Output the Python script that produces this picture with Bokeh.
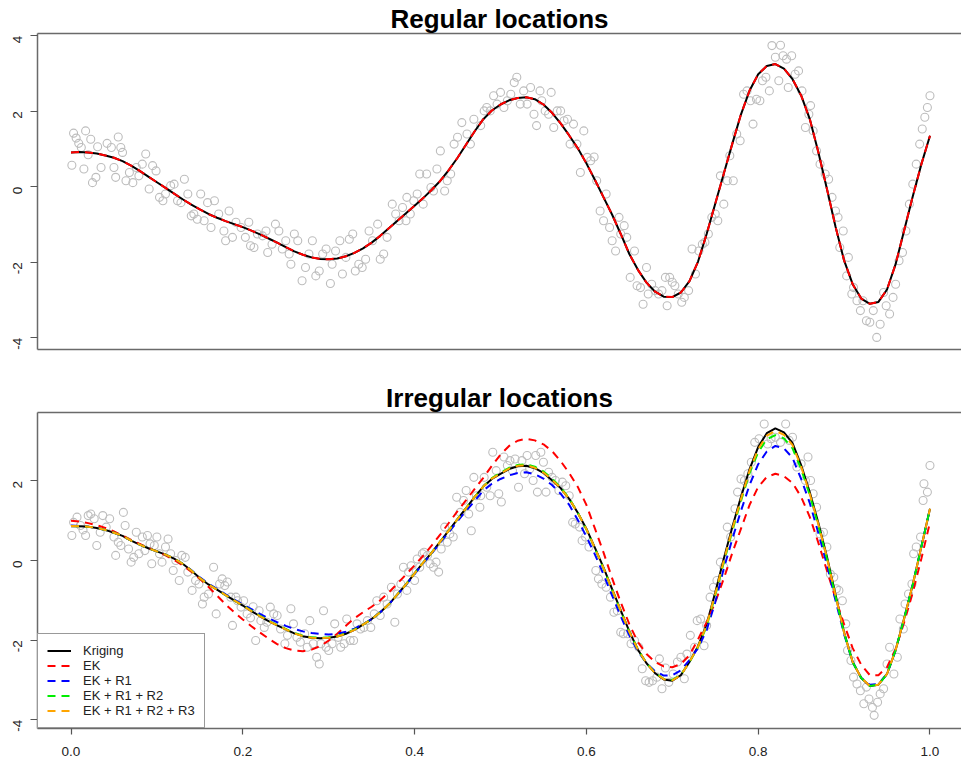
import math
from bokeh.plotting import figure
from bokeh.layouts import column
from bokeh.models import Range1d, FixedTicker, LinearAxis, Legend, LegendItem
from bokeh.embed import file_html
from bokeh.resources import INLINE

# ---------------- data ----------------
CURVE_X = [round(i * 0.01, 2) for i in range(101)]

KRIGING_TOP = [0.91, 0.92, 0.91, 0.88, 0.83, 0.77, 0.68, 0.56, 0.42, 0.27,
               0.12, -0.03, -0.18, -0.33, -0.47, -0.60, -0.72, -0.82, -0.91, -0.99,
               -1.07, -1.16, -1.26, -1.37, -1.48, -1.60, -1.71, -1.80, -1.87, -1.91,
               -1.92, -1.90, -1.84, -1.75, -1.63, -1.48, -1.30, -1.10, -0.90, -0.70,
               -0.50, -0.30, -0.08, 0.16, 0.45, 0.77, 1.12, 1.47, 1.79, 2.02,
               2.18, 2.29, 2.35, 2.37, 2.32, 2.18, 1.96, 1.68, 1.36, 1.02,
               0.62, 0.18, -0.28, -0.74, -1.25, -1.78, -2.20, -2.54, -2.78, -2.91,
               -2.92, -2.80, -2.50, -1.98, -1.25, -0.45, 0.35, 1.15, 1.92, 2.55,
               2.98, 3.20, 3.25, 3.13, 2.85, 2.42, 1.80, 0.92, -0.05, -1.05,
               -1.95, -2.58, -2.96, -3.10, -3.05, -2.72, -2.05, -1.15, -0.25, 0.60,
               1.35]
EK_TOP = [0.91, 0.92, 0.91, 0.88, 0.83, 0.77, 0.68, 0.56, 0.42, 0.27,
          0.12, -0.03, -0.18, -0.33, -0.47, -0.60, -0.72, -0.82, -0.91, -0.99,
          -1.07, -1.16, -1.26, -1.37, -1.48, -1.60, -1.71, -1.80, -1.87, -1.91,
          -1.92, -1.90, -1.84, -1.75, -1.63, -1.48, -1.30, -1.10, -0.90, -0.70,
          -0.50, -0.30, -0.08, 0.16, 0.45, 0.77, 1.12, 1.47, 1.79, 2.02,
          2.18, 2.29, 2.35, 2.37, 2.32, 2.18, 1.96, 1.68, 1.36, 1.02,
          0.62, 0.18, -0.28, -0.74, -1.25, -1.78, -2.20, -2.54, -2.78, -2.91,
          -2.92, -2.80, -2.50, -1.98, -1.25, -0.45, 0.35, 1.15, 1.92, 2.55,
          2.98, 3.20, 3.25, 3.13, 2.85, 2.42, 1.80, 0.92, -0.05, -1.05,
          -1.95, -2.58, -2.96, -3.10, -3.05, -2.72, -2.05, -1.15, -0.25, 0.60,
          1.35]

KRIGING_BOT = [0.86, 0.86, 0.85, 0.82, 0.77, 0.70, 0.62, 0.50, 0.40, 0.31,
               0.23, 0.15, 0.05, -0.08, -0.25, -0.44, -0.60, -0.73, -0.87, -1.00,
               -1.13, -1.27, -1.40, -1.52, -1.63, -1.73, -1.83, -1.90, -1.94, -1.95,
               -1.94, -1.91, -1.84, -1.74, -1.61, -1.47, -1.30, -1.10, -0.85, -0.60,
               -0.32, -0.05, 0.20, 0.48, 0.76, 1.04, 1.32, 1.60, 1.86, 2.05,
               2.18, 2.30, 2.37, 2.38, 2.32, 2.20, 2.02, 1.82, 1.55, 1.20,
               0.80, 0.32, -0.18, -0.72, -1.25, -1.78, -2.24, -2.58, -2.83, -2.99,
               -3.02, -2.88, -2.55, -2.15, -1.60, -0.80, 0.05, 0.85, 1.60, 2.30,
               2.85, 3.20, 3.32, 3.22, 2.95, 2.40, 1.72, 0.95, 0.10, -0.85,
               -1.80, -2.55, -2.95, -3.15, -3.12, -2.85, -2.25, -1.45, -0.60, 0.35,
               1.30]
EK_BOT = [1.00, 0.98, 0.94, 0.89, 0.82, 0.73, 0.63, 0.52, 0.42, 0.32,
          0.23, 0.13, 0.02, -0.12, -0.28, -0.46, -0.66, -0.88, -1.10, -1.30,
          -1.48, -1.65, -1.81, -1.96, -2.10, -2.20, -2.26, -2.28, -2.24, -2.15,
          -2.01, -1.84, -1.64, -1.45, -1.30, -1.16, -1.00, -0.80, -0.58, -0.35,
          -0.12, 0.12, 0.38, 0.66, 0.95, 1.24, 1.52, 1.80, 2.08, 2.38,
          2.66, 2.88, 3.01, 3.06, 3.02, 2.92, 2.75, 2.50, 2.20, 1.85,
          1.40, 0.80, 0.20, -0.45, -1.05, -1.60, -2.05, -2.35, -2.55, -2.66,
          -2.68, -2.60, -2.38, -1.98, -1.55, -1.05, -0.45, 0.20, 0.80, 1.40,
          1.85, 2.10, 2.18, 2.12, 1.95, 1.60, 1.10, 0.45, -0.25, -0.95,
          -1.60, -2.20, -2.62, -2.88, -2.88, -2.68, -2.22, -1.55, -0.80, 0.05,
          0.96]
EK_R1_BOT = [0.88, 0.87, 0.85, 0.82, 0.77, 0.70, 0.61, 0.50, 0.40, 0.31,
             0.23, 0.15, 0.05, -0.08, -0.24, -0.42, -0.58, -0.71, -0.85, -0.98,
             -1.10, -1.22, -1.34, -1.45, -1.55, -1.64, -1.72, -1.78, -1.82, -1.84,
             -1.86, -1.84, -1.79, -1.71, -1.60, -1.47, -1.30, -1.10, -0.86, -0.61,
             -0.34, -0.07, 0.18, 0.45, 0.72, 0.99, 1.25, 1.50, 1.76, 1.93,
             2.05, 2.14, 2.20, 2.22, 2.17, 2.06, 1.90, 1.68, 1.40, 1.02,
             0.60, 0.15, -0.35, -0.88, -1.40, -1.88, -2.28, -2.58, -2.78, -2.89,
             -2.88, -2.76, -2.50, -2.20, -1.75, -1.05, -0.20, 0.55, 1.25, 1.90,
             2.42, 2.74, 2.88, 2.82, 2.58, 2.05, 1.45, 0.70, -0.10, -1.00,
             -1.85, -2.55, -2.95, -3.12, -3.10, -2.85, -2.25, -1.45, -0.60, 0.35,
             1.30]
EK_R1_R2_BOT = [0.87, 0.86, 0.85, 0.82, 0.77, 0.70, 0.62, 0.50, 0.40, 0.31,
                0.23, 0.15, 0.05, -0.08, -0.25, -0.44, -0.60, -0.73, -0.87, -1.00,
                -1.13, -1.26, -1.39, -1.51, -1.62, -1.72, -1.82, -1.89, -1.93, -1.94,
                -1.93, -1.90, -1.83, -1.73, -1.61, -1.47, -1.30, -1.10, -0.85, -0.60,
                -0.32, -0.05, 0.20, 0.48, 0.76, 1.04, 1.32, 1.60, 1.86, 2.07,
                2.21, 2.33, 2.40, 2.42, 2.36, 2.24, 2.06, 1.84, 1.56, 1.20,
                0.78, 0.30, -0.20, -0.74, -1.27, -1.79, -2.24, -2.58, -2.82, -2.97,
                -3.00, -2.87, -2.55, -2.17, -1.65, -0.88, -0.05, 0.75, 1.50, 2.20,
                2.72, 3.05, 3.15, 3.07, 2.82, 2.30, 1.65, 0.88, 0.05, -0.90,
                -1.82, -2.55, -2.95, -3.15, -3.12, -2.85, -2.25, -1.45, -0.60, 0.35,
                1.30]
EK_R1_R2_R3_BOT = [0.87, 0.86, 0.85, 0.82, 0.77, 0.70, 0.62, 0.50, 0.40, 0.31,
                   0.23, 0.15, 0.05, -0.08, -0.25, -0.44, -0.60, -0.73, -0.87, -1.00,
                   -1.13, -1.27, -1.40, -1.52, -1.63, -1.73, -1.83, -1.90, -1.94, -1.95,
                   -1.94, -1.91, -1.84, -1.74, -1.61, -1.47, -1.30, -1.10, -0.85, -0.60,
                   -0.32, -0.05, 0.20, 0.48, 0.76, 1.04, 1.32, 1.60, 1.86, 2.06,
                   2.19, 2.31, 2.38, 2.39, 2.33, 2.21, 2.03, 1.82, 1.55, 1.20,
                   0.79, 0.31, -0.19, -0.73, -1.26, -1.79, -2.24, -2.58, -2.83, -2.98,
                   -3.01, -2.88, -2.55, -2.16, -1.62, -0.84, 0.00, 0.80, 1.55, 2.26,
                   2.80, 3.14, 3.26, 3.16, 2.90, 2.36, 1.68, 0.92, 0.08, -0.87,
                   -1.81, -2.55, -2.95, -3.15, -3.12, -2.85, -2.25, -1.45, -0.60, 0.35,
                   1.30]

# observations, regular locations
OBS_TOP_X = [0.001, 0.003, 0.006, 0.009, 0.012, 0.015, 0.017, 0.020, 0.023, 0.025,
             0.029, 0.031, 0.035, 0.042, 0.047, 0.050, 0.052, 0.055, 0.058, 0.060,
             0.064, 0.068, 0.072, 0.076, 0.079, 0.083, 0.087, 0.091, 0.095, 0.099,
             0.103, 0.107, 0.110, 0.116, 0.120, 0.124, 0.128, 0.132, 0.136, 0.140,
             0.143, 0.147, 0.151, 0.155, 0.159, 0.163, 0.167, 0.172, 0.178, 0.180,
             0.184, 0.188, 0.192, 0.198, 0.203, 0.207, 0.209, 0.213, 0.217, 0.223,
             0.227, 0.229, 0.234, 0.238, 0.242, 0.246, 0.250, 0.254, 0.256, 0.260,
             0.264, 0.269, 0.273, 0.277, 0.281, 0.285, 0.289, 0.293, 0.297, 0.302,
             0.304, 0.308, 0.313, 0.316, 0.320, 0.324, 0.328, 0.331, 0.335, 0.339,
             0.343, 0.347, 0.351, 0.357, 0.360, 0.364, 0.368, 0.374, 0.378, 0.382,
             0.386, 0.390, 0.391, 0.395, 0.399, 0.403, 0.406, 0.410, 0.414, 0.419,
             0.422, 0.426, 0.430, 0.435, 0.438, 0.442, 0.446, 0.450, 0.455, 0.461,
             0.465, 0.469,
             0.477, 0.481, 0.484, 0.488, 0.492, 0.496, 0.500, 0.504, 0.508, 0.512,
             0.516, 0.519, 0.523, 0.527, 0.531, 0.535, 0.539, 0.542, 0.546, 0.548,
             0.552, 0.556, 0.559, 0.562, 0.566, 0.570, 0.574, 0.578, 0.581, 0.585,
             0.589, 0.593, 0.597, 0.601, 0.605, 0.609, 0.612, 0.616, 0.620, 0.623,
             0.627, 0.630, 0.634, 0.638, 0.640, 0.644, 0.647, 0.651, 0.656, 0.659,
             0.663, 0.666, 0.670, 0.672, 0.676, 0.680, 0.684, 0.688, 0.692, 0.694,
             0.697, 0.700, 0.703, 0.707, 0.711, 0.714, 0.719, 0.723, 0.727, 0.731,
             0.735, 0.738, 0.742, 0.746, 0.750, 0.753, 0.756, 0.760, 0.764, 0.767,
             0.771, 0.775, 0.779, 0.783, 0.787, 0.791, 0.794, 0.798, 0.802, 0.805,
             0.809, 0.813, 0.816, 0.820, 0.824, 0.826, 0.829, 0.833, 0.835, 0.839,
             0.843, 0.847, 0.851, 0.855, 0.859, 0.861, 0.864, 0.868, 0.872, 0.878,
             0.882, 0.886, 0.890, 0.893, 0.895, 0.899, 0.903, 0.905, 0.909, 0.911,
             0.915, 0.919, 0.922, 0.926, 0.930, 0.934, 0.938, 0.942, 0.946, 0.949,
             0.953, 0.957, 0.960, 0.964, 0.968, 0.972, 0.976, 0.980, 0.984, 0.988,
             0.991, 0.994, 0.997, 1.000]
OBS_TOP_Y = [0.57, 1.42, 1.29, 1.15, 1.04, 0.47, 1.48, 0.85, 1.26, 0.11,
             0.25, 1.06, 0.51, 1.15, 1.04, 0.51, 0.25, 1.32, 1.04, 0.91,
             0.16, 0.38, 0.11, 0.51, 0.29, 0.60, 0.87, -0.06, 0.56, 0.42,
             -0.28, -0.37, -0.19, 0.03, 0.07, -0.37, -0.42, 0.20, -0.19, -0.77,
             -0.72, -0.86, -0.19, -0.90, -0.42, -1.08, -0.37, -0.72, -1.17, -1.43,
             -0.64, -1.34, -0.94, -1.08, -1.34, -0.94, -1.56, -1.61, -1.25, -1.30,
             -1.17, -1.74, -1.52, -0.99, -1.17, -1.65, -1.43, -1.78, -2.05, -1.25,
             -1.43, -2.49, -2.14, -1.78, -1.43, -2.36, -2.23, -1.78, -1.65, -2.56,
             -2.05, -1.70, -1.43, -2.31, -1.87, -1.39, -1.25, -2.23, -2.05, -2.14,
             -1.92, -1.17, -1.43, -0.99, -1.92, -1.78, -1.34, -0.46, -0.72, -0.90,
             -0.55, -0.90, -0.28, -0.72, -0.37, -0.19, 0.34, -0.46, 0.34, -0.02,
             -0.11, 0.47, 0.95, -0.11, 0.16, 0.34, 1.13, 1.31, 1.70, 1.40,
             1.13, 1.79,
             1.62, 2.01, 2.10, 2.01, 2.41, 2.19, 2.50, 2.10, 2.28, 2.45,
             2.76, 2.90, 2.19, 2.54, 2.19, 2.63, 1.92, 1.62, 2.54, 2.28,
             2.01, 1.92, 2.50, 1.57, 2.01, 2.01, 1.75, 1.79, 1.13, 1.66,
             1.13, 0.38, 1.48, 0.78, 0.69, 0.79, 0.16, -0.64, -0.90, -0.19,
             -1.08, -1.43, -1.70, -0.81, -1.25, -1.03, -1.34, -2.40, -1.70, -2.62,
             -2.67, -3.11, -2.14, -2.84, -2.58, -2.75, -2.84, -2.75, -2.40, -3.15,
             -2.40, -2.53, -2.62, -2.84, -3.06, -2.93, -2.75, -1.65, -2.31, -1.70,
             -1.52, -1.47, -1.25, -0.81, -0.72, -0.90, 0.29, -0.46, 0.16, 0.82,
             0.16, 1.40, 1.22, 2.45, 2.54, 2.28, 1.66, 2.32, 2.28, 2.81,
             2.90, 2.54, 3.74, 3.43, 2.81, 3.75, 3.47, 3.38, 2.63, 3.47,
             2.98, 3.07, 2.54, 1.57, 1.92, 2.15, 1.48, 0.95, 0.60, 0.34,
             0.20, -0.28, -0.64, -0.81, -1.61, -1.17, -2.36, -1.87, -2.84, -2.67,
             -3.02, -3.28, -3.02, -3.55, -3.59, -3.28, -3.99, -3.64, -2.80, -3.15,
             -3.37, -2.93, -2.58, -1.96, -1.74, -1.17, -0.46, 0.07, 0.60, 1.13,
             1.53, 1.84, 2.10, 2.41]

# observations, irregular locations
OBS_BOT_X = [0.001, 0.003, 0.007, 0.011, 0.014, 0.017, 0.020, 0.023, 0.027, 0.030,
             0.034, 0.037, 0.041, 0.045, 0.050, 0.052, 0.055, 0.058, 0.061, 0.063,
             0.067, 0.070, 0.073, 0.076, 0.079, 0.083, 0.086, 0.089, 0.092, 0.094,
             0.097, 0.100, 0.103, 0.106, 0.110, 0.113, 0.116, 0.119, 0.122, 0.126,
             0.129, 0.133, 0.136, 0.141, 0.145, 0.149, 0.153, 0.155, 0.160, 0.166,
             0.169, 0.173, 0.176, 0.179, 0.182, 0.186, 0.188, 0.192, 0.194, 0.198,
             0.201, 0.205, 0.209, 0.212, 0.215, 0.219, 0.221, 0.225, 0.228, 0.232,
             0.236, 0.240, 0.244, 0.249, 0.252, 0.256, 0.259, 0.263, 0.267, 0.272,
             0.275, 0.278, 0.282, 0.286, 0.289, 0.291, 0.294, 0.297, 0.300, 0.304,
             0.307, 0.311, 0.314, 0.318, 0.321, 0.325, 0.329, 0.333, 0.337, 0.341,
             0.345, 0.349, 0.353, 0.356, 0.360, 0.364, 0.368, 0.373, 0.377, 0.380,
             0.384, 0.387, 0.391, 0.393, 0.396, 0.400, 0.403, 0.406, 0.409, 0.411,
             0.415, 0.418, 0.422, 0.425, 0.428, 0.431, 0.435, 0.438, 0.441, 0.445,
             0.449, 0.453, 0.457, 0.460, 0.463, 0.466, 0.469, 0.472, 0.476,
             0.477, 0.481, 0.484, 0.488, 0.491, 0.495, 0.498, 0.501, 0.504, 0.508,
             0.511, 0.514, 0.517, 0.521, 0.525, 0.528, 0.531, 0.534, 0.538, 0.541,
             0.543, 0.547, 0.550, 0.553, 0.556, 0.560, 0.564, 0.568, 0.572, 0.576,
             0.580, 0.584, 0.587, 0.592, 0.595, 0.599, 0.603, 0.611, 0.614, 0.618,
             0.623, 0.628, 0.632, 0.636, 0.640, 0.643, 0.648, 0.652, 0.656, 0.661,
             0.665, 0.669, 0.673, 0.677, 0.682, 0.685, 0.688, 0.692, 0.696, 0.701,
             0.706, 0.710, 0.714, 0.717, 0.721, 0.726, 0.729, 0.733, 0.737, 0.740,
             0.744, 0.748, 0.752, 0.756, 0.760, 0.764, 0.768, 0.773, 0.776, 0.780,
             0.784, 0.788, 0.792, 0.796, 0.801, 0.807, 0.811, 0.815, 0.820, 0.826,
             0.832, 0.836, 0.840, 0.845, 0.850, 0.855, 0.858, 0.861, 0.864, 0.868,
             0.872, 0.876, 0.880, 0.884, 0.888, 0.891, 0.894, 0.898, 0.902, 0.904,
             0.908, 0.911, 0.915, 0.919, 0.923, 0.926, 0.929, 0.933, 0.935, 0.939,
             0.942, 0.946, 0.950, 0.953, 0.958, 0.962, 0.965, 0.969, 0.971, 0.975,
             0.979, 0.981, 0.984, 0.989, 0.992, 0.993, 0.997, 1.000]
OBS_BOT_Y = [0.63, 0.96, 1.09, 0.88, 0.77, 0.63, 1.13, 1.17, 1.05, 0.38,
             0.71, 1.13, 0.84, 1.05, 0.59, 0.13, 0.46, 0.38, 1.21, 0.88,
             0.29, -0.04, 0.08, 0.71, 0.17, 0.59, 0.25, 0.63, 0.42, -0.08,
             0.38, 0.59, 0.17, -0.04, 0.34, 0.54, 0.17, -0.25, 0.00, -0.50,
             0.13, 0.08, -0.29, -0.75, -0.50, -0.59, -1.09, -0.92, -0.84, -0.17,
             -1.34, -0.59, -0.46, -0.63, -0.54, -0.92, -1.63, -0.92, -1.01, -1.17,
             -1.01, -1.34, -1.44, -1.16, -2.01, -1.26, -1.51, -1.68, -1.55, -1.17,
             -1.34, -1.38, -1.72, -2.09, -1.88, -1.21, -1.59, -1.93, -2.05, -1.84,
             -2.18, -1.51, -2.09, -2.43, -2.60, -2.09, -1.26, -2.18, -2.26, -2.09,
             -1.59, -1.93, -2.18, -2.09, -1.47, -2.01, -2.01, -1.59, -1.72, -1.68,
             -1.51, -1.68, -1.34, -1.01, -1.38, -0.92, -1.09, -0.67, -1.55, -0.84,
             -0.59, -0.17, -0.75, -0.29, -0.13, -0.50, 0.04, -0.17, 0.17, 0.21,
             0.13, -0.08, -0.17, -0.04, -0.29, 0.29, 0.84, 0.46, 0.67, 0.59,
             1.59, 1.21, 1.51, 1.76, 1.17, 0.75, 2.09, 1.63, 1.34,
             1.63, 2.09, 1.84, 1.63, 2.72, 2.26, 1.68, 1.47, 2.60, 2.39,
             2.51, 2.26, 2.55, 1.84, 2.51, 2.18, 2.64, 2.30, 2.01, 2.64,
             1.72, 2.72, 2.47, 1.72, 2.22, 2.09, 2.01, 1.76, 1.97, 1.88,
             1.63, 0.96, 0.92, 0.84, 0.50, 0.59, 0.34, -0.25, -0.46, -0.59,
             -0.67, -0.92, -1.30, -1.26, -1.80, -1.84, -1.84, -2.09, -2.01, -2.18,
             -2.72, -3.02, -3.06, -3.02, -2.93, -2.47, -3.22, -2.70, -3.06, -2.85,
             -2.55, -2.43, -2.97, -2.35, -1.88, -2.18, -1.51, -1.47, -2.14, -1.63,
             -0.92, -0.67, -0.50, -0.04, -0.17, 0.84, 0.59, 1.30, 1.72, 2.05,
             2.01, 2.18, 2.47, 2.97, 3.06, 3.43, 2.93, 3.06, 3.10, 2.97,
             3.43, 3.02, 3.10, 2.35, 2.43, 2.01, 2.60, 2.01, 1.68, 1.34,
             0.67, 0.71, 0.34, -0.34, -0.42, -0.71, -0.75, -1.01, -1.59, -2.26,
             -2.51, -2.93, -3.10, -3.27, -3.60, -3.18, -3.48, -3.69, -3.89, -3.56,
             -3.35, -3.22, -2.60, -2.18, -2.85, -2.43, -1.47, -1.72, -1.09, -0.84,
             -0.59, 0.17, 0.34, 0.59, 1.51, 1.93, 1.72, 2.39]

X_TICKS = [0.0, 0.2, 0.4, 0.6, 0.8, 1.0]
X_TICK_LABELS = ["0.0", "0.2", "0.4", "0.6", "0.8", "1.0"]
Y_TICKS_TOP = [-4, -2, 0, 2, 4]
Y_TICKS_BOT = [-4, -2, 0, 2]

LEGEND_LABELS = ["Kriging", "EK", "EK + R1", "EK + R1 + R2", "EK + R1 + R2 + R3"]

# ---------------- styling ----------------
FONT = "Liberation Sans"
BOX = "#6a6a6a"
GREY = "#bdbdbd"
DASH = "8 6"


def make_fig(title, y_range, top_border, bottom_border):
    p = figure(frame_width=924, frame_height=316,
               x_range=Range1d(-0.039, 1.0367), y_range=y_range,
               output_backend="svg", toolbar_location=None,
               min_border_left=37, min_border_right=0,
               min_border_top=top_border, min_border_bottom=bottom_border,
               x_axis_location=None, y_axis_location=None)
    p.title.text = title
    p.title.align = "center"
    p.title.text_font = FONT
    p.title.text_font_size = "26px"
    p.title.text_font_style = "bold"
    p.title.text_color = "#000000"
    p.title.standoff = 0
    p.title.offset = 0
    p.outline_line_color = None
    p.xgrid.visible = False
    p.ygrid.visible = False
    p.background_fill_color = "white"
    p.border_fill_color = "white"
    return p


def style_axis(ax, size="13.5px"):
    ax.axis_line_color = BOX
    ax.axis_line_width = 1.5
    ax.major_tick_line_color = "#555555"
    ax.major_tick_line_width = 1.2
    ax.major_tick_in = 0
    ax.major_tick_out = 7
    ax.minor_tick_line_color = None
    ax.major_label_text_font = FONT
    ax.major_label_text_font_size = size
    ax.major_label_text_color = "#222222"


def empty_axis():
    ax = LinearAxis(ticker=FixedTicker(ticks=[]))
    style_axis(ax)
    ax.major_tick_out = 0
    ax.major_label_standoff = 0
    return ax


def left_axis(ticks):
    ax = LinearAxis(ticker=FixedTicker(ticks=ticks))
    style_axis(ax)
    ax.major_label_overrides = {t: str(t) for t in ticks}
    ax.major_label_orientation = math.pi / 2
    ax.major_label_standoff = 13
    return ax


# ---- top panel ----
p1 = make_fig("Regular locations", Range1d(-4.31, 4.06), 33, 23)
p1.add_layout(left_axis(Y_TICKS_TOP), "left")
p1.add_layout(empty_axis(), "above")
p1.add_layout(empty_axis(), "below")

p1.scatter(OBS_TOP_X, OBS_TOP_Y, marker="circle", size=8, fill_color=None,
           line_color=GREY, line_width=1.1)
p1.line(CURVE_X, KRIGING_TOP, line_color="black", line_width=2)
p1.line(CURVE_X, EK_TOP, line_color="#ff0000", line_width=2, line_dash=DASH)

# ---- bottom panel ----
p2 = make_fig("Irregular locations", Range1d(-4.22, 3.72), 40, 33)
p2.add_layout(left_axis(Y_TICKS_BOT), "left")
p2.add_layout(empty_axis(), "above")
xa = LinearAxis(ticker=FixedTicker(ticks=X_TICKS))
style_axis(xa)
xa.major_tick_out = 6
xa.major_label_standoff = 12
xa.major_label_overrides = dict(zip(X_TICKS, X_TICK_LABELS))
p2.add_layout(xa, "below")

p2.scatter(OBS_BOT_X, OBS_BOT_Y, marker="circle", size=8, fill_color=None,
           line_color=GREY, line_width=1.1)
r0 = p2.line(CURVE_X, KRIGING_BOT, line_color="black", line_width=2)
r1 = p2.line(CURVE_X, EK_BOT, line_color="#ff0000", line_width=2, line_dash=DASH)
r2 = p2.line(CURVE_X, EK_R1_BOT, line_color="#0000ff", line_width=2, line_dash=DASH)
r3 = p2.line(CURVE_X, EK_R1_R2_BOT, line_color="#00ee00", line_width=2, line_dash=DASH)
r4 = p2.line(CURVE_X, EK_R1_R2_R3_BOT, line_color="#ffa500", line_width=2, line_dash=DASH)

legend = Legend(items=[LegendItem(label=lab, renderers=[r])
                       for lab, r in zip(LEGEND_LABELS, [r0, r1, r2, r3, r4])],
                location="bottom_left", margin=0, padding=9, spacing=0,
                glyph_width=24, glyph_height=15, label_height=15,
                label_standoff=12, label_text_font=FONT,
                label_text_font_size="13px", label_text_color="#222222",
                border_line_color="#333333", border_line_width=1.2,
                background_fill_color="white", background_fill_alpha=1.0)
p2.add_layout(legend, "center")

layout = column(p1, p2, spacing=0)
open("out.html", "w").write(file_html(layout, INLINE))
